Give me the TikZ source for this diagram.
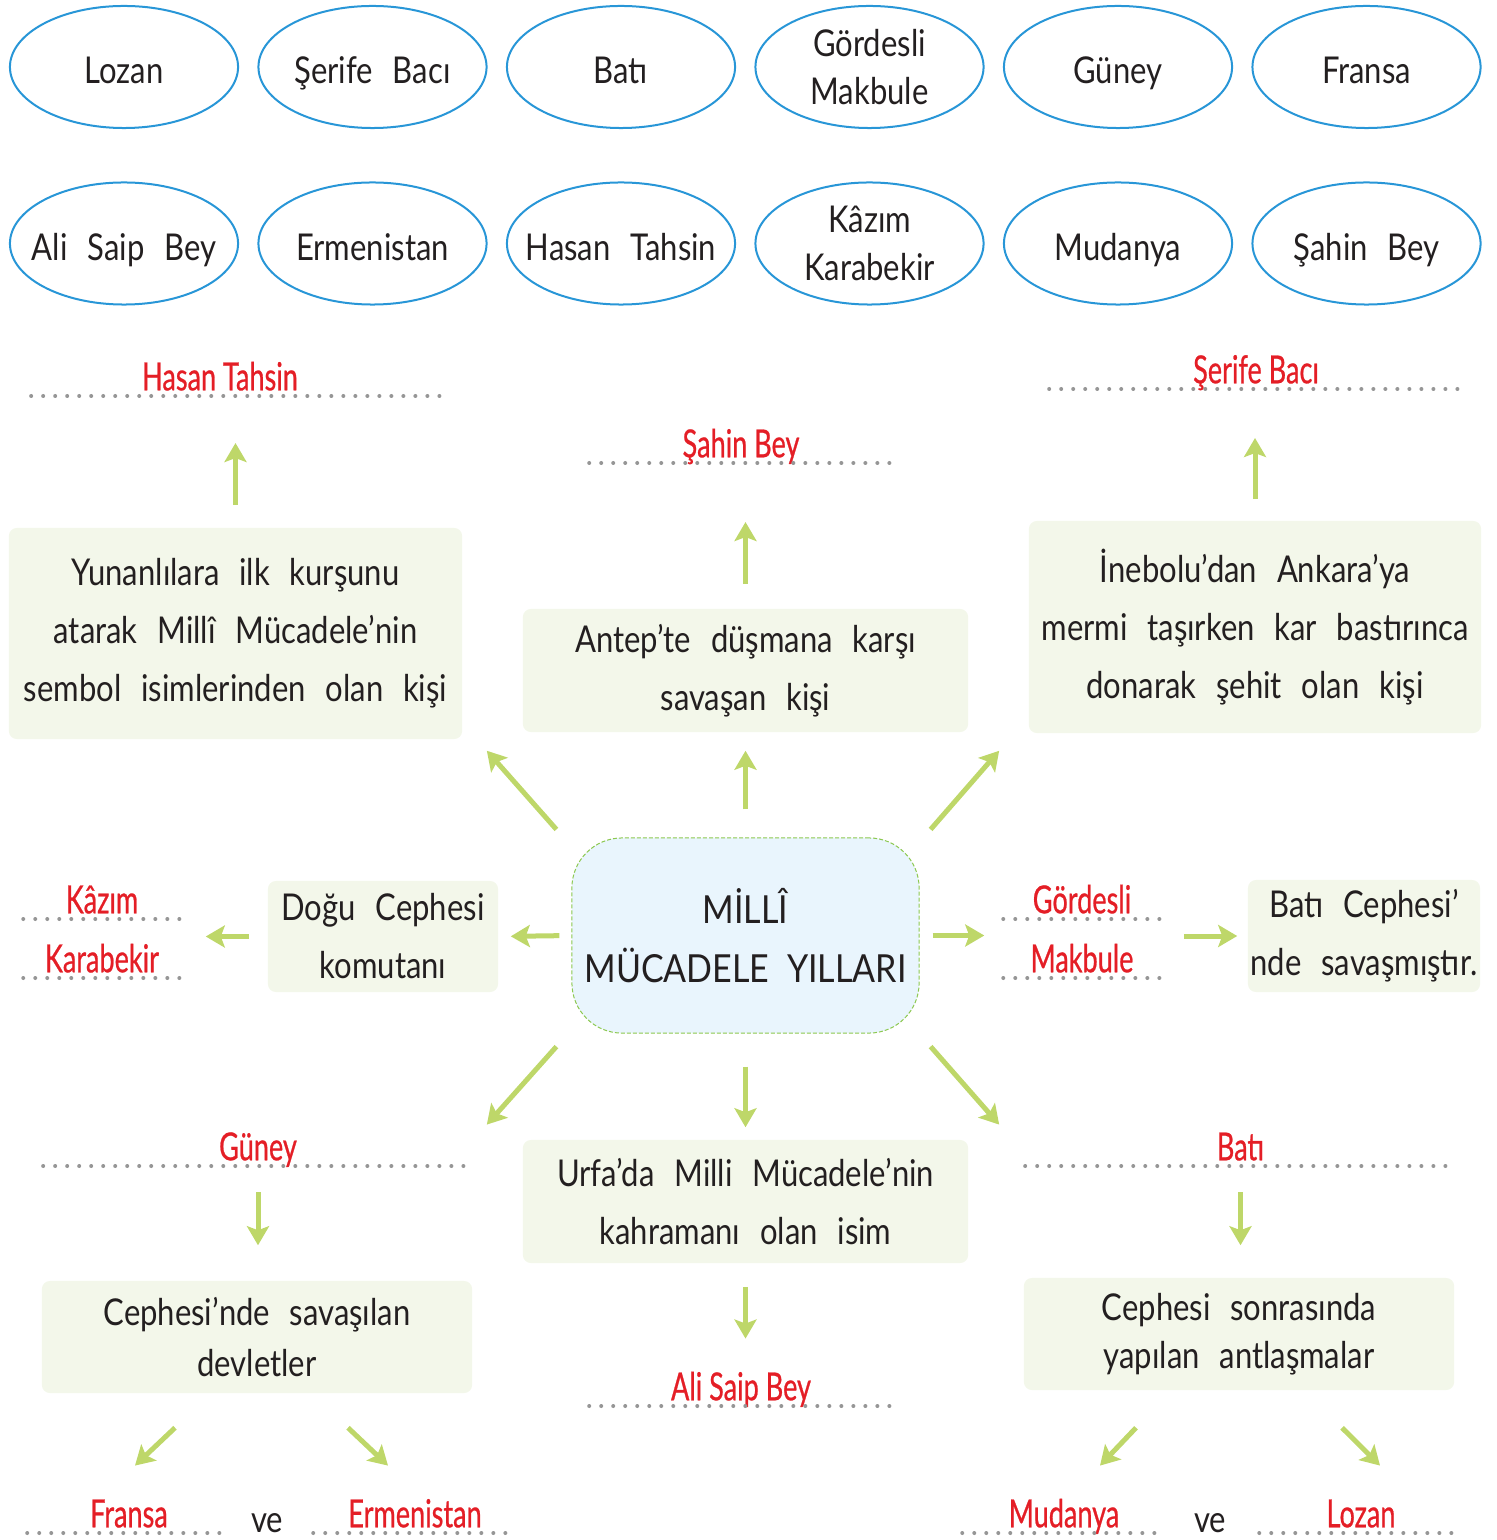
\documentclass[tikz,border=0pt]{standalone}
\usepackage{fontspec}
\setmainfont{Lato}[FakeStretch=0.84, WordSpace=2.5]
\newfontfamily\handfont[FakeStretch=0.7, FakeBold=0.6]{Lato}
\newfontfamily\titlefont[FakeStretch=0.88, WordSpace=2]{Lato}
\usetikzlibrary{shapes.geometric,arrows.meta}

\definecolor{ovalblue}{RGB}{40,150,215}
\definecolor{arrowgreen}{RGB}{190,215,105}
\definecolor{cardfill}{RGB}{243,247,234}
\definecolor{hubfill}{RGB}{233,245,253}
\definecolor{hubline}{RGB}{140,200,80}
\definecolor{answerred}{RGB}{228,30,38}
\definecolor{dotgray}{RGB}{150,150,150}
\definecolor{inkblack}{RGB}{35,31,32}

\tikzset{
	oval/.style={ellipse, draw=ovalblue, line width=0.02cm, minimum width=2.28cm, minimum height=1.22cm,
		inner xsep=-0.4cm, inner ysep=-0.2cm, align=center, text=inkblack, font=\fontsize{10.5}{13.7}\selectfont},
	onename/.style={oval, text height=0.33cm, text depth=0cm},
	card/.style 2 args={fill=cardfill, rounded corners=0.08cm, inner sep=0pt, align=center, text=inkblack,
		minimum width=#1, minimum height=#2, font=\fontsize{10.5}{16.5}\selectfont},
	hub/.style={fill=hubfill, draw=hubline, dash pattern=on 0.04cm off 0.02cm, line width=0.01cm,
		rounded corners=0.5cm, inner sep=0pt, align=center, minimum width=3.47cm, minimum height=1.95cm,
		text=inkblack, font=\titlefont\fontsize{11}{16.8}\selectfont},
	answer/.style={anchor=south, minimum width=#1, inner sep=0pt, text height=0.3cm, text depth=0.05cm,
		text=answerred, font=\handfont\fontsize{11}{12}\selectfont},
	dotrule/.style={draw=dotgray, line width=0.04cm, line cap=round, dash pattern=on 0pt off 0.12cm},
	arr/.style={draw=arrowgreen, line width=0.05cm, -{Stealth[length=0.19cm, width=0.22cm, inset=0.04cm]}},
}

\begin{document}
\begin{tikzpicture}[x=0.01cm, y=-0.01cm]
\useasboundingbox (0,0) rectangle (1496,1540);
	% name ovals
	\node[onename] (ovlozan) at (124,67) {Lozan};
	\node[onename] (ovserife) at (372.5,67) {Şerife Bacı};
	\node[onename] (ovbati) at (621,67) {Batı};
	\node[oval] (ovgordesli) at (869.5,67) {Gördesli\\Makbule};
	\node[onename] (ovguney) at (1118,67) {Güney};
	\node[onename] (ovfransa) at (1366.5,67) {Fransa};
	\node[onename] (ovalisaip) at (124,243.5) {Ali Saip Bey};
	\node[onename] (overmenistan) at (372.5,243.5) {Ermenistan};
	\node[onename] (ovhasan) at (621,243.5) {Hasan Tahsin};
	\node[oval] (ovkazim) at (869.5,243.5) {Kâzım\\Karabekir};
	\node[onename] (ovmudanya) at (1118,243.5) {Mudanya};
	\node[onename] (ovsahin) at (1366.5,243.5) {Şahin Bey};

	% question cards
	\node[hub] (hub) at (745.5,935.5) {MİLLÎ\\MÜCADELE YILLARI};
	\node[card={4.53cm}{2.11cm}] (yunan) at (235.5,633.5) {Yunanlılara ilk kurşunu\\atarak Millî Mücadele’nin\\sembol isimlerinden olan kişi};
	\node[card={4.45cm}{1.23cm}] (antep) at (745.5,670.5) {Antep’te düşmana karşı\\savaşan kişi};
	\node[card={4.52cm}{2.12cm}] (inebolu) at (1255,627) {İnebolu’dan Ankara’ya\\mermi taşırken kar bastırınca\\donarak şehit olan kişi};
	\node[card={2.30cm}{1.11cm}] (dogu) at (383,936.5) {Doğu Cephesi\\komutanı};
	\node[card={2.32cm}{1.12cm}] (baticep) at (1364,936) {Batı Cephesi’\\nde savaşmıştır.};
	\node[card={4.45cm}{1.23cm}] (urfa) at (745.5,1201.5) {Urfa’da Milli Mücadele’nin\\kahramanı olan isim};
	\node[card={4.30cm}{1.12cm}, font=\fontsize{10.5}{14.5}\selectfont] (devlet) at (257,1337) {Cephesi’nde savaşılan\\devletler};
	\node[card={4.30cm}{1.12cm}, font=\fontsize{10.5}{13.7}\selectfont] (antlasma) at (1239,1334) {Cephesi sonrasında\\yapılan antlaşmalar};

	% answers on dotted lines
	\node[answer=4.08cm] (hasan) at (236,396) {\hspace*{-0.32cm}Hasan Tahsin};
	\node[answer=3.02cm] (sahin) at (741,463) {Şahin Bey};
	\node[answer=4.12cm] (serife) at (1256,389) {Şerife Bacı};
	\node[answer=1.56cm] (kazim) at (102,919) {Kâzım};
	\node[answer=1.56cm] (karabekir) at (102,978) {Karabekir};
	\node[answer=1.56cm] (gordesli) at (1082,919) {Gördesli};
	\node[answer=1.56cm] (makbule) at (1082,978) {Makbule};
	\node[answer=4.28cm] (guney) at (258,1166) {Güney};
	\node[answer=4.29cm] (bati) at (1240.5,1166) {Batı};
	\node[answer=3.02cm] (alisaip) at (741,1406) {Ali Saip Bey};
	\node[answer=2.02cm] (fransa) at (129,1533) {Fransa};
	\node[answer=2.02cm] (ermenistan) at (415,1533) {Ermenistan};
	\node[answer=2.02cm] (mudanya) at (1064,1533) {Mudanya};
	\node[answer=2.02cm] (lozan) at (1361,1533) {Lozan};
	\node[text=inkblack, font=\fontsize{10.5}{12}\selectfont, anchor=base] (ve1) at (267,1532) {ve};
	\node[text=inkblack, font=\fontsize{10.5}{12}\selectfont, anchor=base] (ve2) at (1210,1532) {ve};

	\draw[dotrule] (hasan.south west) -- (hasan.south east);
	\draw[dotrule] (sahin.south west) -- (sahin.south east);
	\draw[dotrule] (serife.south west) -- (serife.south east);
	\draw[dotrule] (kazim.south west) -- (kazim.south east);
	\draw[dotrule] (karabekir.south west) -- (karabekir.south east);
	\draw[dotrule] (gordesli.south west) -- (gordesli.south east);
	\draw[dotrule] (makbule.south west) -- (makbule.south east);
	\draw[dotrule] (guney.south west) -- (guney.south east);
	\draw[dotrule] (bati.south west) -- (bati.south east);
	\draw[dotrule] (alisaip.south west) -- (alisaip.south east);
	\draw[dotrule] (fransa.south west) -- (fransa.south east);
	\draw[dotrule] (ermenistan.south west) -- (ermenistan.south east);
	\draw[dotrule] (mudanya.south west) -- (mudanya.south east);
	\draw[dotrule] (lozan.south west) -- (lozan.south east);

	% arrows out of the hub
	\draw[arr, shorten <=0.28cm, shorten >=0.18cm] (hub.north) -- (antep.south);
	\draw[arr] ([shift={(-15,-8)}]hub.north west) -- ([shift={(24,11)}]yunan.south east);
	\draw[arr] ([shift={(11,-8)}]hub.north east) -- ([shift={(-29,17)}]inebolu.south west);
	\draw[arr, shorten <=0.12cm, shorten >=0.12cm] (hub.west) -- (dogu.east);
	\draw[arr, shorten <=0.13cm, shorten >=0.19cm] (hub.east) -- (hub.east -| gordesli.west);
	\draw[arr, shorten <=0.33cm, shorten >=0.12cm] (hub.south) -- (urfa.north);
	\draw[arr] ([shift={(-15,13)}]hub.south west) -- ([shift={(14,-5)}]guney.north east);
	\draw[arr] ([shift={(11,13)}]hub.south east) -- ([shift={(-26,-5)}]bati.north west);

	% arrows to the answers
	\draw[arr, shorten <=0.22cm, shorten >=0.47cm] (yunan.north) -- (yunan.north |- hasan.south);
	\draw[arr, shorten <=0.24cm, shorten >=0.59cm] (antep.north) -- (antep.north |- sahin.south);
	\draw[arr, shorten <=0.21cm, shorten >=0.49cm] (inebolu.north) -- (inebolu.north |- serife.south);
	\draw[arr, shorten <=0.18cm, shorten >=0.25cm] (dogu.west) -- (dogu.west -| kazim.east);
	\draw[arr, shorten <=0.23cm, shorten >=0.10cm] (baticep.west -| gordesli.east) -- (baticep.west);
	\draw[arr, shorten <=0.26cm, shorten >=0.35cm] (guney.south) -- (guney.south |- devlet.north);
	\draw[arr, shorten <=0.26cm, shorten >=0.32cm] (bati.south) -- (bati.south |- antlasma.north);
	\draw[arr, shorten <=0.23cm, shorten >=0.31cm] (urfa.south) -- (urfa.south |- alisaip.north);
	\draw[arr] ([shift={(-82,34)}]devlet.south) -- ([shift={(6,-31)}]fransa.north);
	\draw[arr] ([shift={(91,34)}]devlet.south) -- ([shift={(-27,-31)}]ermenistan.north);
	\draw[arr] ([shift={(-103,37)}]antlasma.south) -- ([shift={(36,-31)}]mudanya.north);
	\draw[arr] ([shift={(103,37)}]antlasma.south) -- ([shift={(19,-31)}]lozan.north);
\end{tikzpicture}
\end{document}
